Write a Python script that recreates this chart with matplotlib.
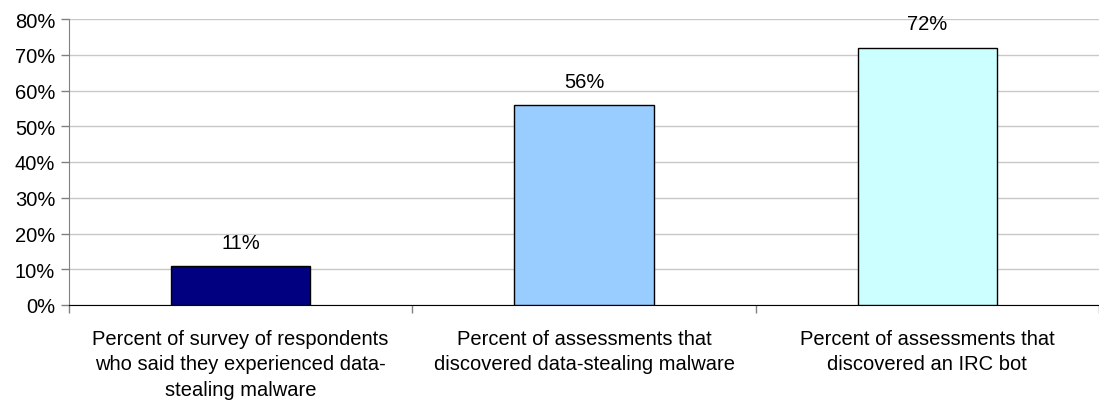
import numpy as np
import matplotlib
matplotlib.use('Agg')
import matplotlib.pyplot as plt

plt.rcParams['font.family'] = ['Liberation Sans', 'DejaVu Sans']

categories = ['Percent of survey of respondents\nwho said they experienced data-\nstealing malware',
              'Percent of assessments that\ndiscovered data-stealing malware',
              'Percent of assessments that\ndiscovered an IRC bot']
values = [11, 56, 72]
colors = ['#000080', '#99CCFF', '#CCFFFF']

W, H = 1099, 402
fs = 14.5
fig = plt.figure(figsize=(W / 100, H / 100), dpi=100)
left, right = 69 / W, 1.0
bottom, top = 1 - 306 / H, 1 - 20 / H
ax = fig.add_axes([left, bottom, right - left, top - bottom])

x = np.arange(len(values))
ax.bar(x, values, width=0.405, color=colors, edgecolor='black', linewidth=1, zorder=3)

for xi, v in zip(x, values):
    ax.annotate('{}%'.format(v), (xi, v), xytext=(0, 17), textcoords='offset points',
                ha='center', va='center', fontsize=fs)

# category axis extends a bit past the right edge of the picture
ax.set_xlim(-0.5, 2.5 - 8 / 346)
ax.set_ylim(0, 80)
ax.set_yticks(np.arange(0, 81, 10))
ax.set_yticklabels(['{}%'.format(t) for t in range(0, 81, 10)], fontsize=fs)
ax.yaxis.grid(True, color='#c8c8c8', linewidth=1, zorder=0)

ax.set_xticks([-0.5, 0.5, 1.5, 2.5])
ax.set_xticklabels([])
ax.set_xticks(x, minor=True)
ax.set_xticklabels(categories, minor=True, fontsize=fs, linespacing=1.43, va='top')
ax.tick_params(axis='x', which='minor', length=0, pad=17)
ax.tick_params(axis='x', which='major', length=6, color='#808080', width=1)
ax.tick_params(axis='y', length=6, color='#808080', width=1, pad=4)

for s in ['top', 'right']:
    ax.spines[s].set_visible(False)
ax.spines['left'].set_color('#808080')
ax.spines['bottom'].set_color('black')

fig.savefig('out.png', dpi=100)
